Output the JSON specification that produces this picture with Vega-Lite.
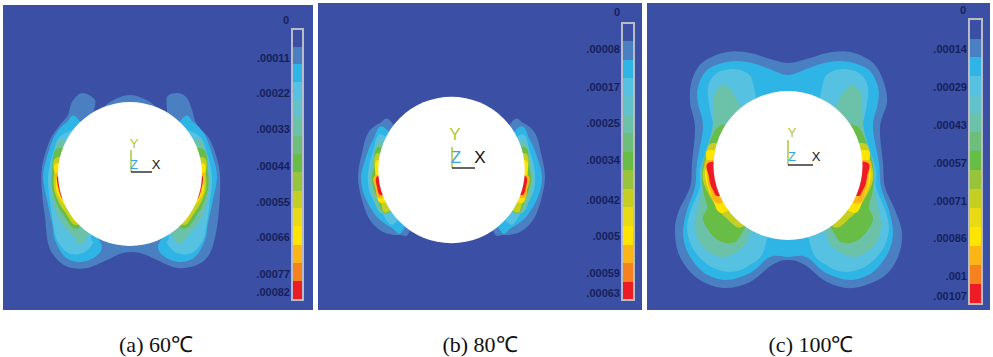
{"$schema":"https://vega.github.io/schema/vega-lite/v6.json","width":993,"height":357,"padding":0,"autosize":"none","background":"#ffffff","view":{"stroke":null},
"resolve":{"scale":{"size":"independent"}},
"datasets":{
"rects":[
{"x":3,"x2":313,"y":5,"y2":310,"b":0},{"x":318,"x2":642,"y":3,"y2":310,"b":0},{"x":647,"x2":990,"y":3,"y2":310,"b":0},
{"x":292,"x2":303,"y":29,"y2":47,"b":0},{"x":292,"x2":303,"y":47,"y2":64,"b":1},{"x":292,"x2":303,"y":64,"y2":82,"b":2},{"x":292,"x2":303,"y":82,"y2":100,"b":3},{"x":292,"x2":303,"y":100,"y2":118,"b":4},{"x":292,"x2":303,"y":118,"y2":136,"b":5},{"x":292,"x2":303,"y":136,"y2":154,"b":6},{"x":292,"x2":303,"y":154,"y2":172,"b":7},{"x":292,"x2":303,"y":172,"y2":191,"b":8},{"x":292,"x2":303,"y":191,"y2":208,"b":9},{"x":292,"x2":303,"y":208,"y2":226,"b":10},{"x":292,"x2":303,"y":226,"y2":245,"b":11},{"x":292,"x2":303,"y":245,"y2":263,"b":12},{"x":292,"x2":303,"y":263,"y2":281,"b":13},{"x":292,"x2":303,"y":281,"y2":300,"b":14},
{"x":622,"x2":634,"y":23,"y2":41,"b":0},{"x":622,"x2":634,"y":41,"y2":60,"b":1},{"x":622,"x2":634,"y":60,"y2":78,"b":2},{"x":622,"x2":634,"y":78,"y2":96,"b":3},{"x":622,"x2":634,"y":96,"y2":115,"b":4},{"x":622,"x2":634,"y":115,"y2":133,"b":5},{"x":622,"x2":634,"y":133,"y2":152,"b":6},{"x":622,"x2":634,"y":152,"y2":170,"b":7},{"x":622,"x2":634,"y":170,"y2":189,"b":8},{"x":622,"x2":634,"y":189,"y2":207,"b":9},{"x":622,"x2":634,"y":207,"y2":226,"b":10},{"x":622,"x2":634,"y":226,"y2":245,"b":11},{"x":622,"x2":634,"y":245,"y2":263,"b":12},{"x":622,"x2":634,"y":263,"y2":282,"b":13},{"x":622,"x2":634,"y":282,"y2":300,"b":14},
{"x":969,"x2":982,"y":19,"y2":39,"b":0},{"x":969,"x2":982,"y":39,"y2":57,"b":1},{"x":969,"x2":982,"y":57,"y2":76,"b":2},{"x":969,"x2":982,"y":76,"y2":95,"b":3},{"x":969,"x2":982,"y":95,"y2":114,"b":4},{"x":969,"x2":982,"y":114,"y2":132,"b":5},{"x":969,"x2":982,"y":132,"y2":151,"b":6},{"x":969,"x2":982,"y":151,"y2":170,"b":7},{"x":969,"x2":982,"y":170,"y2":189,"b":8},{"x":969,"x2":982,"y":189,"y2":208,"b":9},{"x":969,"x2":982,"y":208,"y2":227,"b":10},{"x":969,"x2":982,"y":227,"y2":246,"b":11},{"x":969,"x2":982,"y":246,"y2":265,"b":12},{"x":969,"x2":982,"y":265,"y2":284,"b":13},{"x":969,"x2":982,"y":284,"y2":304,"b":14}
],
"frames":[{"x":292,"x2":303,"y":29,"y2":300},{"x":622,"x2":634,"y":23,"y2":300},{"x":969,"x2":982,"y":19,"y2":304}],
"contours":[
{"s":"a1","b":1,"x":130,"y":95},{"s":"a1","b":1,"x":150,"y":102},{"s":"a1","b":1,"x":166,"y":115},{"s":"a1","b":1,"x":167,"y":97},{"s":"a1","b":1,"x":178,"y":93},{"s":"a1","b":1,"x":187,"y":98},{"s":"a1","b":1,"x":192,"y":110},{"s":"a1","b":1,"x":197,"y":125},{"s":"a1","b":1,"x":210,"y":140},{"s":"a1","b":1,"x":219,"y":167},{"s":"a1","b":1,"x":220,"y":193},{"s":"a1","b":1,"x":217,"y":227},{"s":"a1","b":1,"x":210,"y":253},{"s":"a1","b":1,"x":197,"y":265},{"s":"a1","b":1,"x":177,"y":268},{"s":"a1","b":1,"x":157,"y":260},{"s":"a1","b":1,"x":140,"y":253},{"s":"a1","b":1,"x":123,"y":253},{"s":"a1","b":1,"x":107,"y":260},{"s":"a1","b":1,"x":87,"y":268},{"s":"a1","b":1,"x":68,"y":267},{"s":"a1","b":1,"x":55,"y":257},{"s":"a1","b":1,"x":48,"y":243},{"s":"a1","b":1,"x":45,"y":217},{"s":"a1","b":1,"x":42,"y":193},{"s":"a1","b":1,"x":42,"y":167},{"s":"a1","b":1,"x":50,"y":140},{"s":"a1","b":1,"x":60,"y":125},{"s":"a1","b":1,"x":68,"y":115},{"s":"a1","b":1,"x":72,"y":102},{"s":"a1","b":1,"x":82,"y":93},{"s":"a1","b":1,"x":95,"y":100},{"s":"a1","b":1,"x":94,"y":115},{"s":"a1","b":1,"x":110,"y":102},
{"s":"a2L","b":2,"x":78,"y":119},{"s":"a2L","b":2,"x":67,"y":122},{"s":"a2L","b":2,"x":55,"y":135},{"s":"a2L","b":2,"x":47,"y":157},{"s":"a2L","b":2,"x":43,"y":177},{"s":"a2L","b":2,"x":47,"y":200},{"s":"a2L","b":2,"x":52,"y":223},{"s":"a2L","b":2,"x":55,"y":240},{"s":"a2L","b":2,"x":65,"y":257},{"s":"a2L","b":2,"x":80,"y":262},{"s":"a2L","b":2,"x":95,"y":257},{"s":"a2L","b":2,"x":102,"y":247},{"s":"a2L","b":2,"x":97,"y":227},{"s":"a2L","b":2,"x":110,"y":170},
{"s":"a2R","b":2,"x":182,"y":119},{"s":"a2R","b":2,"x":193,"y":122},{"s":"a2R","b":2,"x":205,"y":135},{"s":"a2R","b":2,"x":213,"y":157},{"s":"a2R","b":2,"x":217,"y":177},{"s":"a2R","b":2,"x":213,"y":200},{"s":"a2R","b":2,"x":208,"y":223},{"s":"a2R","b":2,"x":205,"y":240},{"s":"a2R","b":2,"x":195,"y":257},{"s":"a2R","b":2,"x":180,"y":262},{"s":"a2R","b":2,"x":165,"y":257},{"s":"a2R","b":2,"x":158,"y":247},{"s":"a2R","b":2,"x":163,"y":227},{"s":"a2R","b":2,"x":150,"y":170},
{"s":"a3L","b":3,"x":62,"y":135},{"s":"a3L","b":3,"x":53,"y":153},{"s":"a3L","b":3,"x":48,"y":177},{"s":"a3L","b":3,"x":50,"y":200},{"s":"a3L","b":3,"x":53,"y":223},{"s":"a3L","b":3,"x":57,"y":240},{"s":"a3L","b":3,"x":68,"y":253},{"s":"a3L","b":3,"x":83,"y":253},{"s":"a3L","b":3,"x":93,"y":243},{"s":"a3L","b":3,"x":92,"y":232},{"s":"a3L","b":3,"x":110,"y":170},{"s":"a3L","b":3,"x":90,"y":130},
{"s":"a3R","b":3,"x":198,"y":135},{"s":"a3R","b":3,"x":207,"y":153},{"s":"a3R","b":3,"x":212,"y":177},{"s":"a3R","b":3,"x":210,"y":200},{"s":"a3R","b":3,"x":207,"y":223},{"s":"a3R","b":3,"x":203,"y":240},{"s":"a3R","b":3,"x":192,"y":253},{"s":"a3R","b":3,"x":177,"y":253},{"s":"a3R","b":3,"x":167,"y":243},{"s":"a3R","b":3,"x":168,"y":232},{"s":"a3R","b":3,"x":150,"y":170},{"s":"a3R","b":3,"x":170,"y":130},
{"s":"a4L","b":5,"x":63,"y":140},{"s":"a4L","b":5,"x":55,"y":157},{"s":"a4L","b":5,"x":51,"y":177},{"s":"a4L","b":5,"x":52,"y":197},{"s":"a4L","b":5,"x":58,"y":217},{"s":"a4L","b":5,"x":72,"y":235},{"s":"a4L","b":5,"x":85,"y":240},{"s":"a4L","b":5,"x":110,"y":170},
{"s":"a4R","b":5,"x":197,"y":140},{"s":"a4R","b":5,"x":205,"y":157},{"s":"a4R","b":5,"x":209,"y":177},{"s":"a4R","b":5,"x":208,"y":197},{"s":"a4R","b":5,"x":202,"y":217},{"s":"a4R","b":5,"x":188,"y":235},{"s":"a4R","b":5,"x":175,"y":240},{"s":"a4R","b":5,"x":150,"y":170},
{"s":"a5L","b":7,"x":60,"y":148},{"s":"a5L","b":7,"x":52,"y":173},{"s":"a5L","b":7,"x":53,"y":193},{"s":"a5L","b":7,"x":62,"y":213},{"s":"a5L","b":7,"x":80,"y":227},{"s":"a5L","b":7,"x":110,"y":170},
{"s":"a5R","b":7,"x":200,"y":148},{"s":"a5R","b":7,"x":208,"y":173},{"s":"a5R","b":7,"x":207,"y":193},{"s":"a5R","b":7,"x":198,"y":213},{"s":"a5R","b":7,"x":180,"y":227},{"s":"a5R","b":7,"x":150,"y":170},
{"s":"a6L","b":9,"x":59,"y":157},{"s":"a6L","b":9,"x":54,"y":175},{"s":"a6L","b":9,"x":55,"y":193},{"s":"a6L","b":9,"x":65,"y":212},{"s":"a6L","b":9,"x":80,"y":223},{"s":"a6L","b":9,"x":110,"y":170},
{"s":"a6R","b":9,"x":201,"y":157},{"s":"a6R","b":9,"x":206,"y":175},{"s":"a6R","b":9,"x":205,"y":193},{"s":"a6R","b":9,"x":195,"y":212},{"s":"a6R","b":9,"x":180,"y":223},{"s":"a6R","b":9,"x":150,"y":170},
{"s":"a7L","b":11,"x":59,"y":163},{"s":"a7L","b":11,"x":56,"y":177},{"s":"a7L","b":11,"x":57,"y":193},{"s":"a7L","b":11,"x":67,"y":208},{"s":"a7L","b":11,"x":80,"y":220},{"s":"a7L","b":11,"x":110,"y":170},
{"s":"a7R","b":11,"x":201,"y":163},{"s":"a7R","b":11,"x":204,"y":177},{"s":"a7R","b":11,"x":203,"y":193},{"s":"a7R","b":11,"x":193,"y":208},{"s":"a7R","b":11,"x":180,"y":220},{"s":"a7R","b":11,"x":150,"y":170},
{"s":"a8L","b":12,"x":58,"y":173},{"s":"a8L","b":12,"x":57,"y":180},{"s":"a8L","b":12,"x":60,"y":195},{"s":"a8L","b":12,"x":70,"y":205},{"s":"a8L","b":12,"x":90,"y":190},
{"s":"a8R","b":12,"x":202,"y":173},{"s":"a8R","b":12,"x":203,"y":180},{"s":"a8R","b":12,"x":200,"y":195},{"s":"a8R","b":12,"x":190,"y":205},{"s":"a8R","b":12,"x":170,"y":190},
{"s":"a9L","b":14,"x":58,"y":176},{"s":"a9L","b":14,"x":59,"y":190},{"s":"a9L","b":14,"x":64,"y":199},{"s":"a9L","b":14,"x":75,"y":185},
{"s":"a9R","b":14,"x":202,"y":176},{"s":"a9R","b":14,"x":201,"y":190},{"s":"a9R","b":14,"x":196,"y":199},{"s":"a9R","b":14,"x":185,"y":185},
{"s":"b1L","b":1,"x":392,"y":123},{"s":"b1L","b":1,"x":380,"y":123},{"s":"b1L","b":1,"x":368,"y":133},{"s":"b1L","b":1,"x":362,"y":153},{"s":"b1L","b":1,"x":358,"y":177},{"s":"b1L","b":1,"x":362,"y":200},{"s":"b1L","b":1,"x":370,"y":220},{"s":"b1L","b":1,"x":383,"y":232},{"s":"b1L","b":1,"x":400,"y":235},{"s":"b1L","b":1,"x":410,"y":230},{"s":"b1L","b":1,"x":420,"y":177},
{"s":"b1R","b":1,"x":511,"y":123},{"s":"b1R","b":1,"x":523,"y":123},{"s":"b1R","b":1,"x":535,"y":133},{"s":"b1R","b":1,"x":541,"y":153},{"s":"b1R","b":1,"x":545,"y":177},{"s":"b1R","b":1,"x":541,"y":200},{"s":"b1R","b":1,"x":533,"y":220},{"s":"b1R","b":1,"x":520,"y":232},{"s":"b1R","b":1,"x":503,"y":235},{"s":"b1R","b":1,"x":493,"y":230},{"s":"b1R","b":1,"x":483,"y":177},
{"s":"b2L","b":2,"x":385,"y":128},{"s":"b2L","b":2,"x":373,"y":140},{"s":"b2L","b":2,"x":365,"y":160},{"s":"b2L","b":2,"x":361,"y":178},{"s":"b2L","b":2,"x":365,"y":197},{"s":"b2L","b":2,"x":377,"y":217},{"s":"b2L","b":2,"x":392,"y":228},{"s":"b2L","b":2,"x":403,"y":230},{"s":"b2L","b":2,"x":420,"y":177},
{"s":"b2R","b":2,"x":518,"y":128},{"s":"b2R","b":2,"x":530,"y":140},{"s":"b2R","b":2,"x":538,"y":160},{"s":"b2R","b":2,"x":542,"y":178},{"s":"b2R","b":2,"x":538,"y":197},{"s":"b2R","b":2,"x":526,"y":217},{"s":"b2R","b":2,"x":511,"y":228},{"s":"b2R","b":2,"x":500,"y":230},{"s":"b2R","b":2,"x":483,"y":177},
{"s":"b3L","b":3,"x":383,"y":135},{"s":"b3L","b":3,"x":373,"y":152},{"s":"b3L","b":3,"x":368,"y":173},{"s":"b3L","b":3,"x":370,"y":193},{"s":"b3L","b":3,"x":382,"y":213},{"s":"b3L","b":3,"x":395,"y":223},{"s":"b3L","b":3,"x":420,"y":177},
{"s":"b3R","b":3,"x":520,"y":135},{"s":"b3R","b":3,"x":530,"y":152},{"s":"b3R","b":3,"x":535,"y":173},{"s":"b3R","b":3,"x":533,"y":193},{"s":"b3R","b":3,"x":521,"y":213},{"s":"b3R","b":3,"x":508,"y":223},{"s":"b3R","b":3,"x":483,"y":177},
{"s":"b4L","b":5,"x":382,"y":142},{"s":"b4L","b":5,"x":373,"y":160},{"s":"b4L","b":5,"x":370,"y":178},{"s":"b4L","b":5,"x":373,"y":197},{"s":"b4L","b":5,"x":385,"y":213},{"s":"b4L","b":5,"x":420,"y":177},
{"s":"b4R","b":5,"x":521,"y":142},{"s":"b4R","b":5,"x":530,"y":160},{"s":"b4R","b":5,"x":533,"y":178},{"s":"b4R","b":5,"x":530,"y":197},{"s":"b4R","b":5,"x":518,"y":213},{"s":"b4R","b":5,"x":483,"y":177},
{"s":"b5L","b":7,"x":380,"y":147},{"s":"b5L","b":7,"x":374,"y":167},{"s":"b5L","b":7,"x":372,"y":180},{"s":"b5L","b":7,"x":377,"y":197},{"s":"b5L","b":7,"x":388,"y":213},{"s":"b5L","b":7,"x":420,"y":177},
{"s":"b5R","b":7,"x":523,"y":147},{"s":"b5R","b":7,"x":529,"y":167},{"s":"b5R","b":7,"x":531,"y":180},{"s":"b5R","b":7,"x":526,"y":197},{"s":"b5R","b":7,"x":515,"y":213},{"s":"b5R","b":7,"x":483,"y":177},
{"s":"b6L","b":9,"x":379,"y":153},{"s":"b6L","b":9,"x":375,"y":175},{"s":"b6L","b":9,"x":374,"y":183},{"s":"b6L","b":9,"x":380,"y":200},{"s":"b6L","b":9,"x":388,"y":212},{"s":"b6L","b":9,"x":420,"y":177},
{"s":"b6R","b":9,"x":524,"y":153},{"s":"b6R","b":9,"x":528,"y":175},{"s":"b6R","b":9,"x":529,"y":183},{"s":"b6R","b":9,"x":523,"y":200},{"s":"b6R","b":9,"x":515,"y":212},{"s":"b6R","b":9,"x":483,"y":177},
{"s":"b7L","b":11,"x":379,"y":160},{"s":"b7L","b":11,"x":376,"y":177},{"s":"b7L","b":11,"x":376,"y":187},{"s":"b7L","b":11,"x":383,"y":203},{"s":"b7L","b":11,"x":420,"y":177},
{"s":"b7R","b":11,"x":524,"y":160},{"s":"b7R","b":11,"x":527,"y":177},{"s":"b7R","b":11,"x":527,"y":187},{"s":"b7R","b":11,"x":520,"y":203},{"s":"b7R","b":11,"x":483,"y":177},
{"s":"b8L","b":12,"x":377,"y":175},{"s":"b8L","b":12,"x":376,"y":188},{"s":"b8L","b":12,"x":382,"y":198},{"s":"b8L","b":12,"x":420,"y":177},
{"s":"b8R","b":12,"x":526,"y":175},{"s":"b8R","b":12,"x":527,"y":188},{"s":"b8R","b":12,"x":521,"y":198},{"s":"b8R","b":12,"x":483,"y":177},
{"s":"b9L","b":14,"x":378,"y":176},{"s":"b9L","b":14,"x":377,"y":187},{"s":"b9L","b":14,"x":382,"y":195},{"s":"b9L","b":14,"x":400,"y":180},
{"s":"b9R","b":14,"x":525,"y":176},{"s":"b9R","b":14,"x":526,"y":187},{"s":"b9R","b":14,"x":521,"y":195},{"s":"b9R","b":14,"x":503,"y":180},
{"s":"c1","b":1,"x":788,"y":63},{"s":"c1","b":1,"x":767,"y":58},{"s":"c1","b":1,"x":750,"y":53},{"s":"c1","b":1,"x":727,"y":52},{"s":"c1","b":1,"x":703,"y":62},{"s":"c1","b":1,"x":692,"y":80},{"s":"c1","b":1,"x":690,"y":102},{"s":"c1","b":1,"x":695,"y":127},{"s":"c1","b":1,"x":692,"y":163},{"s":"c1","b":1,"x":690,"y":187},{"s":"c1","b":1,"x":678,"y":213},{"s":"c1","b":1,"x":675,"y":233},{"s":"c1","b":1,"x":680,"y":257},{"s":"c1","b":1,"x":697,"y":278},{"s":"c1","b":1,"x":723,"y":288},{"s":"c1","b":1,"x":750,"y":282},{"s":"c1","b":1,"x":772,"y":265},{"s":"c1","b":1,"x":788,"y":260},{"s":"c1","b":1,"x":805,"y":265},{"s":"c1","b":1,"x":827,"y":282},{"s":"c1","b":1,"x":853,"y":288},{"s":"c1","b":1,"x":883,"y":277},{"s":"c1","b":1,"x":898,"y":257},{"s":"c1","b":1,"x":902,"y":233},{"s":"c1","b":1,"x":895,"y":210},{"s":"c1","b":1,"x":885,"y":187},{"s":"c1","b":1,"x":883,"y":163},{"s":"c1","b":1,"x":880,"y":127},{"s":"c1","b":1,"x":887,"y":102},{"s":"c1","b":1,"x":883,"y":80},{"s":"c1","b":1,"x":872,"y":62},{"s":"c1","b":1,"x":850,"y":52},{"s":"c1","b":1,"x":827,"y":53},{"s":"c1","b":1,"x":810,"y":58},
{"s":"c2","b":2,"x":788,"y":75},{"s":"c2","b":2,"x":767,"y":68},{"s":"c2","b":2,"x":747,"y":62},{"s":"c2","b":2,"x":727,"y":62},{"s":"c2","b":2,"x":707,"y":70},{"s":"c2","b":2,"x":698,"y":87},{"s":"c2","b":2,"x":698,"y":103},{"s":"c2","b":2,"x":703,"y":127},{"s":"c2","b":2,"x":697,"y":163},{"s":"c2","b":2,"x":695,"y":187},{"s":"c2","b":2,"x":687,"y":210},{"s":"c2","b":2,"x":683,"y":233},{"s":"c2","b":2,"x":688,"y":253},{"s":"c2","b":2,"x":703,"y":272},{"s":"c2","b":2,"x":725,"y":280},{"s":"c2","b":2,"x":750,"y":273},{"s":"c2","b":2,"x":770,"y":257},{"s":"c2","b":2,"x":788,"y":257},{"s":"c2","b":2,"x":806,"y":257},{"s":"c2","b":2,"x":826,"y":273},{"s":"c2","b":2,"x":851,"y":280},{"s":"c2","b":2,"x":873,"y":272},{"s":"c2","b":2,"x":888,"y":253},{"s":"c2","b":2,"x":893,"y":233},{"s":"c2","b":2,"x":889,"y":210},{"s":"c2","b":2,"x":881,"y":187},{"s":"c2","b":2,"x":879,"y":163},{"s":"c2","b":2,"x":873,"y":127},{"s":"c2","b":2,"x":878,"y":103},{"s":"c2","b":2,"x":878,"y":87},{"s":"c2","b":2,"x":869,"y":70},{"s":"c2","b":2,"x":849,"y":62},{"s":"c2","b":2,"x":829,"y":62},{"s":"c2","b":2,"x":809,"y":68},
{"s":"c3L","b":3,"x":753,"y":83},{"s":"c3L","b":3,"x":747,"y":73},{"s":"c3L","b":3,"x":733,"y":69},{"s":"c3L","b":3,"x":717,"y":73},{"s":"c3L","b":3,"x":708,"y":87},{"s":"c3L","b":3,"x":710,"y":110},{"s":"c3L","b":3,"x":713,"y":127},{"s":"c3L","b":3,"x":707,"y":147},{"s":"c3L","b":3,"x":700,"y":170},{"s":"c3L","b":3,"x":700,"y":187},{"s":"c3L","b":3,"x":692,"y":207},{"s":"c3L","b":3,"x":687,"y":227},{"s":"c3L","b":3,"x":692,"y":247},{"s":"c3L","b":3,"x":708,"y":265},{"s":"c3L","b":3,"x":730,"y":272},{"s":"c3L","b":3,"x":750,"y":265},{"s":"c3L","b":3,"x":765,"y":247},{"s":"c3L","b":3,"x":775,"y":180},{"s":"c3L","b":3,"x":760,"y":120},
{"s":"c3R","b":3,"x":823,"y":83},{"s":"c3R","b":3,"x":829,"y":73},{"s":"c3R","b":3,"x":843,"y":69},{"s":"c3R","b":3,"x":859,"y":73},{"s":"c3R","b":3,"x":868,"y":87},{"s":"c3R","b":3,"x":866,"y":110},{"s":"c3R","b":3,"x":863,"y":127},{"s":"c3R","b":3,"x":869,"y":147},{"s":"c3R","b":3,"x":876,"y":170},{"s":"c3R","b":3,"x":876,"y":187},{"s":"c3R","b":3,"x":884,"y":207},{"s":"c3R","b":3,"x":889,"y":227},{"s":"c3R","b":3,"x":884,"y":247},{"s":"c3R","b":3,"x":868,"y":265},{"s":"c3R","b":3,"x":846,"y":272},{"s":"c3R","b":3,"x":826,"y":265},{"s":"c3R","b":3,"x":811,"y":247},{"s":"c3R","b":3,"x":801,"y":180},{"s":"c3R","b":3,"x":816,"y":120},
{"s":"c4L","b":5,"x":728,"y":87},{"s":"c4L","b":5,"x":715,"y":93},{"s":"c4L","b":5,"x":713,"y":123},{"s":"c4L","b":5,"x":705,"y":165},{"s":"c4L","b":5,"x":703,"y":185},{"s":"c4L","b":5,"x":698,"y":207},{"s":"c4L","b":5,"x":695,"y":227},{"s":"c4L","b":5,"x":703,"y":247},{"s":"c4L","b":5,"x":723,"y":257},{"s":"c4L","b":5,"x":743,"y":247},{"s":"c4L","b":5,"x":750,"y":233},{"s":"c4L","b":5,"x":770,"y":170},{"s":"c4L","b":5,"x":745,"y":115},
{"s":"c4R","b":5,"x":848,"y":87},{"s":"c4R","b":5,"x":861,"y":93},{"s":"c4R","b":5,"x":863,"y":123},{"s":"c4R","b":5,"x":871,"y":165},{"s":"c4R","b":5,"x":873,"y":185},{"s":"c4R","b":5,"x":878,"y":207},{"s":"c4R","b":5,"x":881,"y":227},{"s":"c4R","b":5,"x":873,"y":247},{"s":"c4R","b":5,"x":853,"y":257},{"s":"c4R","b":5,"x":833,"y":247},{"s":"c4R","b":5,"x":826,"y":233},{"s":"c4R","b":5,"x":806,"y":170},{"s":"c4R","b":5,"x":831,"y":115},
{"s":"c5L","b":7,"x":718,"y":127},{"s":"c5L","b":7,"x":707,"y":150},{"s":"c5L","b":7,"x":702,"y":170},{"s":"c5L","b":7,"x":703,"y":190},{"s":"c5L","b":7,"x":707,"y":207},{"s":"c5L","b":7,"x":703,"y":220},{"s":"c5L","b":7,"x":715,"y":238},{"s":"c5L","b":7,"x":730,"y":243},{"s":"c5L","b":7,"x":742,"y":233},{"s":"c5L","b":7,"x":770,"y":170},{"s":"c5L","b":7,"x":735,"y":130},
{"s":"c5R","b":7,"x":858,"y":127},{"s":"c5R","b":7,"x":869,"y":150},{"s":"c5R","b":7,"x":874,"y":170},{"s":"c5R","b":7,"x":873,"y":190},{"s":"c5R","b":7,"x":869,"y":207},{"s":"c5R","b":7,"x":873,"y":220},{"s":"c5R","b":7,"x":861,"y":238},{"s":"c5R","b":7,"x":846,"y":243},{"s":"c5R","b":7,"x":834,"y":233},{"s":"c5R","b":7,"x":806,"y":170},{"s":"c5R","b":7,"x":841,"y":130},
{"s":"c6L","b":9,"x":715,"y":143},{"s":"c6L","b":9,"x":705,"y":163},{"s":"c6L","b":9,"x":703,"y":180},{"s":"c6L","b":9,"x":712,"y":200},{"s":"c6L","b":9,"x":725,"y":217},{"s":"c6L","b":9,"x":745,"y":225},{"s":"c6L","b":9,"x":770,"y":170},
{"s":"c6R","b":9,"x":861,"y":143},{"s":"c6R","b":9,"x":871,"y":163},{"s":"c6R","b":9,"x":873,"y":180},{"s":"c6R","b":9,"x":864,"y":200},{"s":"c6R","b":9,"x":851,"y":217},{"s":"c6R","b":9,"x":831,"y":225},{"s":"c6R","b":9,"x":806,"y":170},
{"s":"c7L","b":11,"x":712,"y":150},{"s":"c7L","b":11,"x":707,"y":163},{"s":"c7L","b":11,"x":705,"y":177},{"s":"c7L","b":11,"x":712,"y":197},{"s":"c7L","b":11,"x":725,"y":212},{"s":"c7L","b":11,"x":770,"y":170},
{"s":"c7R","b":11,"x":864,"y":150},{"s":"c7R","b":11,"x":869,"y":163},{"s":"c7R","b":11,"x":871,"y":177},{"s":"c7R","b":11,"x":864,"y":197},{"s":"c7R","b":11,"x":851,"y":212},{"s":"c7R","b":11,"x":806,"y":170},
{"s":"c8L","b":12,"x":710,"y":160},{"s":"c8L","b":12,"x":707,"y":173},{"s":"c8L","b":12,"x":710,"y":190},{"s":"c8L","b":12,"x":722,"y":203},{"s":"c8L","b":12,"x":770,"y":170},
{"s":"c8R","b":12,"x":866,"y":160},{"s":"c8R","b":12,"x":869,"y":173},{"s":"c8R","b":12,"x":866,"y":190},{"s":"c8R","b":12,"x":854,"y":203},{"s":"c8R","b":12,"x":806,"y":170},
{"s":"c9L","b":14,"x":711,"y":162},{"s":"c9L","b":14,"x":709,"y":177},{"s":"c9L","b":14,"x":713,"y":190},{"s":"c9L","b":14,"x":722,"y":195},{"s":"c9L","b":14,"x":760,"y":170},
{"s":"c9R","b":14,"x":865,"y":162},{"s":"c9R","b":14,"x":867,"y":177},{"s":"c9R","b":14,"x":863,"y":190},{"s":"c9R","b":14,"x":854,"y":195},{"s":"c9R","b":14,"x":816,"y":170}
],
"holes":[{"panel":"a","x":130,"y":174},{"panel":"b","x":451.5,"y":170},{"panel":"c","x":788,"y":165.5}],
"triad":[
{"a":"Y","x":131,"y":172,"x2":131,"y2":150},{"a":"X","x":131,"y":172,"x2":152,"y2":172},
{"a":"Y","x":452,"y":168,"x2":452,"y2":147},{"a":"X","x":452,"y":168,"x2":475,"y2":168},
{"a":"Y","x":788,"y":165,"x2":788,"y2":140},{"a":"X","x":788,"y":165,"x2":813,"y2":165}],
"letters":[
{"panel":"a","t":"Y","x":134,"y":144},{"panel":"a","t":"Z","x":134,"y":165},{"panel":"a","t":"X","x":156,"y":165},
{"panel":"b","t":"Y","x":455,"y":135},{"panel":"b","t":"Z","x":456,"y":158},{"panel":"b","t":"X","x":480,"y":158},
{"panel":"c","t":"Y","x":792,"y":133},{"panel":"c","t":"Z","x":792,"y":157},{"panel":"c","t":"X","x":816,"y":157}],
"scale":[
{"t":"0","x":289,"y":21},{"t":".00011","x":290,"y":59},{"t":".00022","x":290,"y":94},{"t":".00033","x":290,"y":130},{"t":".00044","x":290,"y":167},{"t":".00055","x":290,"y":203},{"t":".00066","x":290,"y":238},{"t":".00077","x":290,"y":275},{"t":".00082","x":290,"y":293},
{"t":"0","x":620,"y":13},{"t":".00008","x":620,"y":50},{"t":".00017","x":620,"y":88},{"t":".00025","x":620,"y":124},{"t":".00034","x":620,"y":161},{"t":".00042","x":620,"y":201},{"t":".0005","x":620,"y":237},{"t":".00059","x":620,"y":274},{"t":".00063","x":620,"y":294},
{"t":"0","x":966,"y":11},{"t":".00014","x":967,"y":50},{"t":".00029","x":967,"y":88},{"t":".00043","x":967,"y":126},{"t":".00057","x":967,"y":164},{"t":".00071","x":967,"y":202},{"t":".00086","x":967,"y":239},{"t":".001","x":967,"y":277},{"t":".00107","x":967,"y":297}],
"captions":[{"t":"(a) 60℃","x":156,"y":345},{"t":"(b) 80℃","x":480,"y":345},{"t":"(c) 100℃","x":811,"y":345}]
},
"encoding":{"x":{"field":"x","type":"quantitative","scale":{"domain":[0,993],"nice":false,"zero":false},"axis":null},"y":{"field":"y","type":"quantitative","scale":{"domain":[357,0],"nice":false,"zero":false},"axis":null}},
"layer":[
{"data":{"name":"rects"},"mark":{"type":"rect","strokeWidth":0},"encoding":{"x2":{"field":"x2"},"y2":{"field":"y2"},"color":{"field":"b","type":"nominal","legend":null,"scale":{"domain":[0,1,2,3,4,5,6,7,8,9,10,11,12,13,14],"range":["#3b50a4","#4a7fc2","#2fb4e6","#56c1e0","#62c2cb","#6cc2a8","#6cbe7a","#68bd46","#98c43c","#c4cf22","#e8da14","#ffe400","#fbb516","#f5821f","#ec1c24"]}}}},
{"data":{"name":"frames"},"mark":{"type":"rect","fillOpacity":0,"stroke":"#b9bcc6","strokeWidth":2},"encoding":{"x2":{"field":"x2"},"y2":{"field":"y2"}}},
{"data":{"name":"contours"},"mark":{"type":"line","filled":true,"interpolate":"cardinal-closed","strokeWidth":0},"encoding":{"detail":{"field":"s"},"order":{"value":null},"color":{"field":"b","type":"nominal","legend":null}}},
{"data":{"name":"holes"},"mark":{"type":"point","filled":true,"fill":"#ffffff","opacity":1,"strokeWidth":0},"encoding":{"size":{"field":"panel","type":"nominal","legend":null,"scale":{"domain":["a","b","c"],"range":[20736,22201,23104]}}}},
{"data":{"name":"triad"},"mark":{"type":"rule","strokeWidth":1.5},"encoding":{"x2":{"field":"x2"},"y2":{"field":"y2"},"stroke":{"field":"a","type":"nominal","legend":null,"scale":{"domain":["X","Y"],"range":["#333333","#a9c83c"]}}}},
{"data":{"name":"letters"},"mark":{"type":"text","font":"Liberation Sans","align":"center","baseline":"middle"},"encoding":{"text":{"field":"t"},"fill":{"field":"t","type":"nominal","legend":null,"scale":{"domain":["X","Y","Z"],"range":["#111111","#b5c62f","#3aa7d6"]}},"size":{"field":"panel","type":"nominal","legend":null,"scale":{"type":"ordinal","domain":["a","b","c"],"range":[13,17,13]}}}},
{"data":{"name":"scale"},"mark":{"type":"text","font":"Liberation Sans","fontWeight":"bold","fontSize":11,"align":"right","baseline":"middle","fill":"#161f5c"},"encoding":{"text":{"field":"t"}}},
{"data":{"name":"captions"},"mark":{"type":"text","font":"Liberation Serif","fontSize":22,"align":"center","baseline":"middle","fill":"#111111"},"encoding":{"text":{"field":"t"}}}
]}
